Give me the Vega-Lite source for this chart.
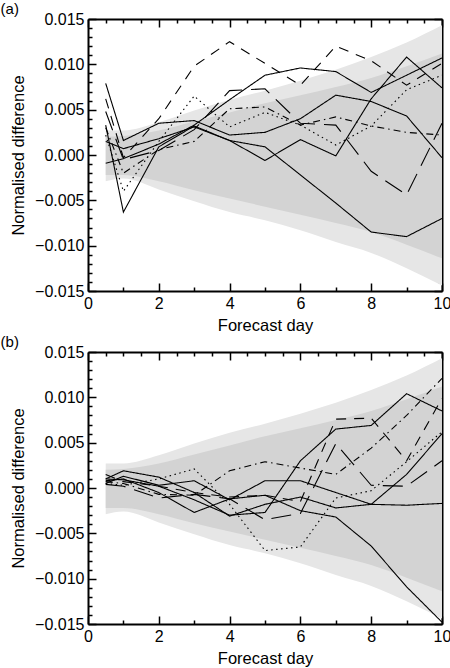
{
  "$schema": "https://vega.github.io/schema/vega-lite/v6.json",
  "padding": {"left": 0, "top": 2, "right": 0, "bottom": 0},
  "spacing": 1,
  "config": {
    "view": {"stroke": null},
    "font": "Liberation Sans",
    "axis": {
      "grid": false,
      "zindex": 1,
      "domainColor": "black",
      "domainWidth": 2,
      "tickColor": "black",
      "tickWidth": 1.5,
      "labelColor": "black",
      "labelFontSize": 16,
      "labelOverlap": false,
      "labelFlush": false,
      "titleColor": "black",
      "titleFontSize": 16.5,
      "titleFontWeight": "normal"
    },
    "title": {"fontSize": 15, "fontWeight": "normal", "anchor": "start", "frame": "bounds", "offset": -6, "dx": -10}
  },
  "datasets": {
    "bands": [
      {"day": 0.5, "outer_lo": -0.0029, "outer_hi": 0.0027, "inner_lo": -0.0022, "inner_hi": 0.0020},
      {"day": 1, "outer_lo": -0.0026, "outer_hi": 0.0027, "inner_lo": -0.0022, "inner_hi": 0.0021},
      {"day": 2, "outer_lo": -0.0038, "outer_hi": 0.0036, "inner_lo": -0.0029, "inner_hi": 0.0027},
      {"day": 3, "outer_lo": -0.0051, "outer_hi": 0.0049, "inner_lo": -0.0039, "inner_hi": 0.0037},
      {"day": 4, "outer_lo": -0.0063, "outer_hi": 0.0061, "inner_lo": -0.0048, "inner_hi": 0.0047},
      {"day": 5, "outer_lo": -0.0072, "outer_hi": 0.0071, "inner_lo": -0.0057, "inner_hi": 0.0057},
      {"day": 6, "outer_lo": -0.0083, "outer_hi": 0.0082, "inner_lo": -0.0066, "inner_hi": 0.0066},
      {"day": 7, "outer_lo": -0.0096, "outer_hi": 0.0094, "inner_lo": -0.0075, "inner_hi": 0.0075},
      {"day": 8, "outer_lo": -0.0108, "outer_hi": 0.0108, "inner_lo": -0.0085, "inner_hi": 0.0085},
      {"day": 9, "outer_lo": -0.0125, "outer_hi": 0.0124, "inner_lo": -0.0099, "inner_hi": 0.0098},
      {"day": 10, "outer_lo": -0.0144, "outer_hi": 0.0143, "inner_lo": -0.0114, "inner_hi": 0.0112}
    ],
    "runs": [
      {"panel": "a", "run": "r1", "day": 0.5, "value": 0.0079}, {"panel": "a", "run": "r1", "day": 1, "value": 0.0016}, {"panel": "a", "run": "r1", "day": 2, "value": 0.0035}, {"panel": "a", "run": "r1", "day": 3, "value": 0.0038}, {"panel": "a", "run": "r1", "day": 4, "value": 0.0022}, {"panel": "a", "run": "r1", "day": 5, "value": 0.0025}, {"panel": "a", "run": "r1", "day": 6, "value": 0.0040}, {"panel": "a", "run": "r1", "day": 7, "value": 0.0066}, {"panel": "a", "run": "r1", "day": 8, "value": 0.0059}, {"panel": "a", "run": "r1", "day": 9, "value": 0.0043}, {"panel": "a", "run": "r1", "day": 10, "value": -0.0003},
      {"panel": "a", "run": "r2", "day": 0.5, "value": 0.0033}, {"panel": "a", "run": "r2", "day": 1, "value": -0.0063}, {"panel": "a", "run": "r2", "day": 2, "value": 0.0009}, {"panel": "a", "run": "r2", "day": 3, "value": 0.0032}, {"panel": "a", "run": "r2", "day": 4, "value": 0.0016}, {"panel": "a", "run": "r2", "day": 5, "value": -0.0006}, {"panel": "a", "run": "r2", "day": 6, "value": 0.0017}, {"panel": "a", "run": "r2", "day": 7, "value": -0.0001}, {"panel": "a", "run": "r2", "day": 8, "value": 0.0062}, {"panel": "a", "run": "r2", "day": 9, "value": 0.0108}, {"panel": "a", "run": "r2", "day": 10, "value": 0.0074},
      {"panel": "a", "run": "r3", "day": 0.5, "value": -0.0009}, {"panel": "a", "run": "r3", "day": 1, "value": -0.0004}, {"panel": "a", "run": "r3", "day": 2, "value": 0.0012}, {"panel": "a", "run": "r3", "day": 3, "value": 0.0033}, {"panel": "a", "run": "r3", "day": 4, "value": 0.0061}, {"panel": "a", "run": "r3", "day": 5, "value": 0.0088}, {"panel": "a", "run": "r3", "day": 6, "value": 0.0096}, {"panel": "a", "run": "r3", "day": 7, "value": 0.0092}, {"panel": "a", "run": "r3", "day": 8, "value": 0.0069}, {"panel": "a", "run": "r3", "day": 9, "value": 0.0088}, {"panel": "a", "run": "r3", "day": 10, "value": 0.0107},
      {"panel": "a", "run": "r4", "day": 0.5, "value": 0.0015}, {"panel": "a", "run": "r4", "day": 1, "value": 0.0007}, {"panel": "a", "run": "r4", "day": 2, "value": 0.0018}, {"panel": "a", "run": "r4", "day": 3, "value": 0.0031}, {"panel": "a", "run": "r4", "day": 4, "value": 0.0016}, {"panel": "a", "run": "r4", "day": 5, "value": 0.0009}, {"panel": "a", "run": "r4", "day": 6, "value": -0.0022}, {"panel": "a", "run": "r4", "day": 7, "value": -0.0053}, {"panel": "a", "run": "r4", "day": 8, "value": -0.0085}, {"panel": "a", "run": "r4", "day": 9, "value": -0.0090}, {"panel": "a", "run": "r4", "day": 10, "value": -0.0070},
      {"panel": "a", "run": "r5", "day": 0.5, "value": 0.0022}, {"panel": "a", "run": "r5", "day": 1, "value": -0.0040}, {"panel": "a", "run": "r5", "day": 2, "value": 0.0015}, {"panel": "a", "run": "r5", "day": 3, "value": 0.0065}, {"panel": "a", "run": "r5", "day": 4, "value": 0.0031}, {"panel": "a", "run": "r5", "day": 5, "value": 0.0047}, {"panel": "a", "run": "r5", "day": 6, "value": 0.0033}, {"panel": "a", "run": "r5", "day": 7, "value": 0.0011}, {"panel": "a", "run": "r5", "day": 8, "value": 0.0032}, {"panel": "a", "run": "r5", "day": 9, "value": 0.0072}, {"panel": "a", "run": "r5", "day": 10, "value": 0.0088},
      {"panel": "a", "run": "r6", "day": 0.5, "value": 0.0030}, {"panel": "a", "run": "r6", "day": 1, "value": -0.0020}, {"panel": "a", "run": "r6", "day": 2, "value": 0.0006}, {"panel": "a", "run": "r6", "day": 3, "value": 0.0015}, {"panel": "a", "run": "r6", "day": 4, "value": 0.0051}, {"panel": "a", "run": "r6", "day": 5, "value": 0.0053}, {"panel": "a", "run": "r6", "day": 6, "value": 0.0033}, {"panel": "a", "run": "r6", "day": 7, "value": 0.0042}, {"panel": "a", "run": "r6", "day": 8, "value": 0.0032}, {"panel": "a", "run": "r6", "day": 9, "value": 0.0025}, {"panel": "a", "run": "r6", "day": 10, "value": 0.0022},
      {"panel": "a", "run": "r7", "day": 0.5, "value": 0.0062}, {"panel": "a", "run": "r7", "day": 1, "value": -0.0003}, {"panel": "a", "run": "r7", "day": 2, "value": 0.0040}, {"panel": "a", "run": "r7", "day": 3, "value": 0.0098}, {"panel": "a", "run": "r7", "day": 4, "value": 0.0125}, {"panel": "a", "run": "r7", "day": 5, "value": 0.0101}, {"panel": "a", "run": "r7", "day": 6, "value": 0.0077}, {"panel": "a", "run": "r7", "day": 7, "value": 0.0120}, {"panel": "a", "run": "r7", "day": 8, "value": 0.0104}, {"panel": "a", "run": "r7", "day": 9, "value": 0.0077}, {"panel": "a", "run": "r7", "day": 10, "value": 0.0101},
      {"panel": "a", "run": "r8", "day": 0.5, "value": 0.0048}, {"panel": "a", "run": "r8", "day": 1, "value": -0.0005}, {"panel": "a", "run": "r8", "day": 2, "value": 0.0005}, {"panel": "a", "run": "r8", "day": 3, "value": 0.0028}, {"panel": "a", "run": "r8", "day": 4, "value": 0.0071}, {"panel": "a", "run": "r8", "day": 5, "value": 0.0073}, {"panel": "a", "run": "r8", "day": 6, "value": 0.0035}, {"panel": "a", "run": "r8", "day": 7, "value": 0.0033}, {"panel": "a", "run": "r8", "day": 8, "value": -0.0018}, {"panel": "a", "run": "r8", "day": 9, "value": -0.0044}, {"panel": "a", "run": "r8", "day": 10, "value": 0.0035},
      {"panel": "b", "run": "r1", "day": 0.5, "value": 0.0010}, {"panel": "b", "run": "r1", "day": 1, "value": 0.0009}, {"panel": "b", "run": "r1", "day": 2, "value": 0.0002}, {"panel": "b", "run": "r1", "day": 3, "value": -0.0013}, {"panel": "b", "run": "r1", "day": 4, "value": -0.0030}, {"panel": "b", "run": "r1", "day": 5, "value": -0.0027}, {"panel": "b", "run": "r1", "day": 6, "value": 0.0030}, {"panel": "b", "run": "r1", "day": 7, "value": 0.0065}, {"panel": "b", "run": "r1", "day": 8, "value": 0.0069}, {"panel": "b", "run": "r1", "day": 9, "value": 0.0104}, {"panel": "b", "run": "r1", "day": 10, "value": 0.0085},
      {"panel": "b", "run": "r2", "day": 0.5, "value": 0.0005}, {"panel": "b", "run": "r2", "day": 1, "value": 0.0013}, {"panel": "b", "run": "r2", "day": 2, "value": 0.0003}, {"panel": "b", "run": "r2", "day": 3, "value": 0.0008}, {"panel": "b", "run": "r2", "day": 4, "value": -0.0013}, {"panel": "b", "run": "r2", "day": 5, "value": 0.0008}, {"panel": "b", "run": "r2", "day": 6, "value": 0.0008}, {"panel": "b", "run": "r2", "day": 7, "value": -0.0005}, {"panel": "b", "run": "r2", "day": 8, "value": -0.0018}, {"panel": "b", "run": "r2", "day": 9, "value": -0.0019}, {"panel": "b", "run": "r2", "day": 10, "value": -0.0017},
      {"panel": "b", "run": "r3", "day": 0.5, "value": 0.0010}, {"panel": "b", "run": "r3", "day": 1, "value": 0.0019}, {"panel": "b", "run": "r3", "day": 2, "value": 0.0012}, {"panel": "b", "run": "r3", "day": 3, "value": -0.0005}, {"panel": "b", "run": "r3", "day": 4, "value": -0.0031}, {"panel": "b", "run": "r3", "day": 5, "value": -0.0018}, {"panel": "b", "run": "r3", "day": 6, "value": -0.0010}, {"panel": "b", "run": "r3", "day": 7, "value": -0.0022}, {"panel": "b", "run": "r3", "day": 8, "value": -0.0018}, {"panel": "b", "run": "r3", "day": 9, "value": 0.0015}, {"panel": "b", "run": "r3", "day": 10, "value": 0.0060},
      {"panel": "b", "run": "r4", "day": 0.5, "value": 0.0008}, {"panel": "b", "run": "r4", "day": 1, "value": 0.0010}, {"panel": "b", "run": "r4", "day": 2, "value": -0.0005}, {"panel": "b", "run": "r4", "day": 3, "value": -0.0027}, {"panel": "b", "run": "r4", "day": 4, "value": -0.0012}, {"panel": "b", "run": "r4", "day": 5, "value": -0.0008}, {"panel": "b", "run": "r4", "day": 6, "value": -0.0025}, {"panel": "b", "run": "r4", "day": 7, "value": -0.0032}, {"panel": "b", "run": "r4", "day": 8, "value": -0.0064}, {"panel": "b", "run": "r4", "day": 9, "value": -0.0109}, {"panel": "b", "run": "r4", "day": 10, "value": -0.0148},
      {"panel": "b", "run": "r5", "day": 0.5, "value": 0.0005}, {"panel": "b", "run": "r5", "day": 1, "value": 0.0003}, {"panel": "b", "run": "r5", "day": 2, "value": 0.0010}, {"panel": "b", "run": "r5", "day": 3, "value": 0.0021}, {"panel": "b", "run": "r5", "day": 4, "value": -0.0018}, {"panel": "b", "run": "r5", "day": 5, "value": -0.0069}, {"panel": "b", "run": "r5", "day": 6, "value": -0.0065}, {"panel": "b", "run": "r5", "day": 7, "value": -0.0011}, {"panel": "b", "run": "r5", "day": 8, "value": -0.0003}, {"panel": "b", "run": "r5", "day": 9, "value": 0.0029}, {"panel": "b", "run": "r5", "day": 10, "value": 0.0062},
      {"panel": "b", "run": "r6", "day": 0.5, "value": 0.0007}, {"panel": "b", "run": "r6", "day": 1, "value": 0.0005}, {"panel": "b", "run": "r6", "day": 2, "value": -0.0007}, {"panel": "b", "run": "r6", "day": 3, "value": -0.0008}, {"panel": "b", "run": "r6", "day": 4, "value": 0.0019}, {"panel": "b", "run": "r6", "day": 5, "value": 0.0029}, {"panel": "b", "run": "r6", "day": 6, "value": 0.0022}, {"panel": "b", "run": "r6", "day": 7, "value": 0.0015}, {"panel": "b", "run": "r6", "day": 8, "value": 0.0044}, {"panel": "b", "run": "r6", "day": 9, "value": 0.0080}, {"panel": "b", "run": "r6", "day": 10, "value": 0.0121},
      {"panel": "b", "run": "r7", "day": 0.5, "value": 0.0015}, {"panel": "b", "run": "r7", "day": 1, "value": 0.0007}, {"panel": "b", "run": "r7", "day": 2, "value": 0.0002}, {"panel": "b", "run": "r7", "day": 3, "value": -0.0005}, {"panel": "b", "run": "r7", "day": 4, "value": -0.0010}, {"panel": "b", "run": "r7", "day": 5, "value": -0.0008}, {"panel": "b", "run": "r7", "day": 6, "value": -0.0015}, {"panel": "b", "run": "r7", "day": 7, "value": 0.0076}, {"panel": "b", "run": "r7", "day": 8, "value": 0.0077}, {"panel": "b", "run": "r7", "day": 9, "value": 0.0030}, {"panel": "b", "run": "r7", "day": 10, "value": 0.0099},
      {"panel": "b", "run": "r8", "day": 0.5, "value": 0.0004}, {"panel": "b", "run": "r8", "day": 1, "value": 0.0002}, {"panel": "b", "run": "r8", "day": 2, "value": -0.0011}, {"panel": "b", "run": "r8", "day": 3, "value": -0.0007}, {"panel": "b", "run": "r8", "day": 4, "value": -0.0012}, {"panel": "b", "run": "r8", "day": 5, "value": -0.0035}, {"panel": "b", "run": "r8", "day": 6, "value": -0.0028}, {"panel": "b", "run": "r8", "day": 7, "value": 0.0049}, {"panel": "b", "run": "r8", "day": 8, "value": 0.0003}, {"panel": "b", "run": "r8", "day": 9, "value": 0.0002}, {"panel": "b", "run": "r8", "day": 10, "value": 0.0030}
    ]
  },
  "vconcat": [
    {
      "width": 354,
      "height": 272,
      "title": {"text": "(a)"},
      "layer": [
        {
          "data": {"name": "bands"},
          "mark": {"type": "area", "color": "#e6e6e6", "interpolate": "monotone"},
          "encoding": {
            "x": {"field": "day", "type": "quantitative", "scale": {"domain": [0, 10], "nice": false},
                  "axis": {"orient": "bottom", "title": "Forecast day", "values": [0, 0.5, 1, 1.5, 2, 2.5, 3, 3.5, 4, 4.5, 5, 5.5, 6, 6.5, 7, 7.5, 8, 8.5, 9, 9.5, 10],
                           "format": "d", "labelExpr": "datum.value % 2 == 0 ? datum.label : ''",
                           "tickSize": {"condition": {"test": "datum.value % 2 == 0", "value": -8}, "value": -4},
                           "labelPadding": 12, "titlePadding": 2}},
            "y": {"field": "outer_lo", "type": "quantitative", "scale": {"domain": [-0.015, 0.015], "nice": false, "zero": false},
                  "axis": {"orient": "left", "title": "Normalised difference", "values": [-0.015, -0.014, -0.013, -0.012, -0.011, -0.01, -0.009, -0.008, -0.007, -0.006, -0.005, -0.004, -0.003, -0.002, -0.001, 0, 0.001, 0.002, 0.003, 0.004, 0.005, 0.006, 0.007, 0.008, 0.009, 0.01, 0.011, 0.012, 0.013, 0.014, 0.015],
                           "format": ".3f", "labelExpr": "abs(round(datum.value * 1000)) % 5 == 0 ? datum.label : ''",
                           "tickSize": {"condition": {"test": "abs(round(datum.value * 1000)) % 5 == 0", "value": -8}, "value": -4},
                           "labelPadding": 12, "titlePadding": 8}},
            "y2": {"field": "outer_hi"}
          }
        },
        {
          "data": {"name": "bands"},
          "mark": {"type": "area", "color": "#d3d3d3", "interpolate": "monotone"},
          "encoding": {
            "x": {"field": "day", "type": "quantitative", "axis": null},
            "y": {"field": "inner_lo", "type": "quantitative", "axis": null},
            "y2": {"field": "inner_hi"}
          }
        },
        {
          "data": {"name": "runs"},
          "transform": [{"filter": "datum.panel == 'a'"}],
          "mark": {"type": "line", "color": "black", "strokeWidth": 1.1},
          "encoding": {
            "x": {"field": "day", "type": "quantitative",
                  "axis": {"orient": "top", "title": null, "labels": false, "values": [0, 0.5, 1, 1.5, 2, 2.5, 3, 3.5, 4, 4.5, 5, 5.5, 6, 6.5, 7, 7.5, 8, 8.5, 9, 9.5, 10],
                           "tickSize": {"condition": {"test": "datum.value % 2 == 0", "value": -8}, "value": -4}}},
            "y": {"field": "value", "type": "quantitative",
                  "axis": {"orient": "right", "title": null, "labels": false, "values": [-0.015, -0.014, -0.013, -0.012, -0.011, -0.01, -0.009, -0.008, -0.007, -0.006, -0.005, -0.004, -0.003, -0.002, -0.001, 0, 0.001, 0.002, 0.003, 0.004, 0.005, 0.006, 0.007, 0.008, 0.009, 0.01, 0.011, 0.012, 0.013, 0.014, 0.015],
                           "tickSize": {"condition": {"test": "abs(round(datum.value * 1000)) % 5 == 0", "value": -8}, "value": -4}}},
            "strokeDash": {"field": "run", "type": "nominal", "legend": null,
                           "scale": {"domain": ["r1", "r2", "r3", "r4", "r5", "r6", "r7", "r8"],
                                     "range": [[1, 0], [1, 0], [1, 0], [1, 0], [1.5, 3.5], [7, 4, 1.5, 4], [10, 8], [20, 9]]}}
          }
        }
      ],
      "resolve": {"axis": {"x": "independent", "y": "independent"}}
    },
    {
      "width": 354,
      "height": 272,
      "title": {"text": "(b)"},
      "layer": [
        {
          "data": {"name": "bands"},
          "mark": {"type": "area", "color": "#e6e6e6", "interpolate": "monotone"},
          "encoding": {
            "x": {"field": "day", "type": "quantitative", "scale": {"domain": [0, 10], "nice": false},
                  "axis": {"orient": "bottom", "title": "Forecast day", "values": [0, 0.5, 1, 1.5, 2, 2.5, 3, 3.5, 4, 4.5, 5, 5.5, 6, 6.5, 7, 7.5, 8, 8.5, 9, 9.5, 10],
                           "format": "d", "labelExpr": "datum.value % 2 == 0 ? datum.label : ''",
                           "tickSize": {"condition": {"test": "datum.value % 2 == 0", "value": -8}, "value": -4},
                           "labelPadding": 12, "titlePadding": 2}},
            "y": {"field": "outer_lo", "type": "quantitative", "scale": {"domain": [-0.015, 0.015], "nice": false, "zero": false},
                  "axis": {"orient": "left", "title": "Normalised difference", "values": [-0.015, -0.014, -0.013, -0.012, -0.011, -0.01, -0.009, -0.008, -0.007, -0.006, -0.005, -0.004, -0.003, -0.002, -0.001, 0, 0.001, 0.002, 0.003, 0.004, 0.005, 0.006, 0.007, 0.008, 0.009, 0.01, 0.011, 0.012, 0.013, 0.014, 0.015],
                           "format": ".3f", "labelExpr": "abs(round(datum.value * 1000)) % 5 == 0 ? datum.label : ''",
                           "tickSize": {"condition": {"test": "abs(round(datum.value * 1000)) % 5 == 0", "value": -8}, "value": -4},
                           "labelPadding": 12, "titlePadding": 8}},
            "y2": {"field": "outer_hi"}
          }
        },
        {
          "data": {"name": "bands"},
          "mark": {"type": "area", "color": "#d3d3d3", "interpolate": "monotone"},
          "encoding": {
            "x": {"field": "day", "type": "quantitative", "axis": null},
            "y": {"field": "inner_lo", "type": "quantitative", "axis": null},
            "y2": {"field": "inner_hi"}
          }
        },
        {
          "data": {"name": "runs"},
          "transform": [{"filter": "datum.panel == 'b'"}],
          "mark": {"type": "line", "color": "black", "strokeWidth": 1.1},
          "encoding": {
            "x": {"field": "day", "type": "quantitative",
                  "axis": {"orient": "top", "title": null, "labels": false, "values": [0, 0.5, 1, 1.5, 2, 2.5, 3, 3.5, 4, 4.5, 5, 5.5, 6, 6.5, 7, 7.5, 8, 8.5, 9, 9.5, 10],
                           "tickSize": {"condition": {"test": "datum.value % 2 == 0", "value": -8}, "value": -4}}},
            "y": {"field": "value", "type": "quantitative",
                  "axis": {"orient": "right", "title": null, "labels": false, "values": [-0.015, -0.014, -0.013, -0.012, -0.011, -0.01, -0.009, -0.008, -0.007, -0.006, -0.005, -0.004, -0.003, -0.002, -0.001, 0, 0.001, 0.002, 0.003, 0.004, 0.005, 0.006, 0.007, 0.008, 0.009, 0.01, 0.011, 0.012, 0.013, 0.014, 0.015],
                           "tickSize": {"condition": {"test": "abs(round(datum.value * 1000)) % 5 == 0", "value": -8}, "value": -4}}},
            "strokeDash": {"field": "run", "type": "nominal", "legend": null,
                           "scale": {"domain": ["r1", "r2", "r3", "r4", "r5", "r6", "r7", "r8"],
                                     "range": [[1, 0], [1, 0], [1, 0], [1, 0], [1.5, 3.5], [7, 4, 1.5, 4], [10, 8], [20, 9]]}}
          }
        }
      ],
      "resolve": {"axis": {"x": "independent", "y": "independent"}}
    }
  ]
}
